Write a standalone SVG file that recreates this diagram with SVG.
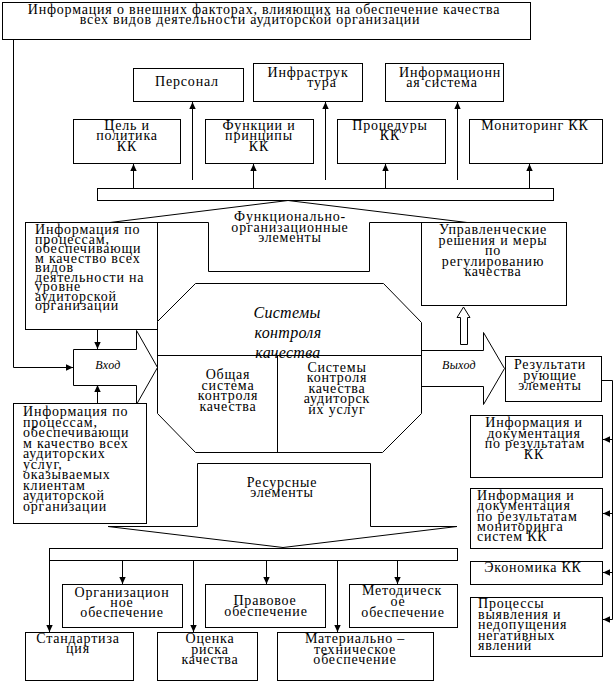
<svg xmlns="http://www.w3.org/2000/svg" width="614" height="681" viewBox="0 0 614 681">
<defs>
<style>
.box{fill:#fff;stroke:#000;stroke-width:1}
.ln{fill:none;stroke:#000;stroke-width:1}
.ar{fill:none;stroke:#000;stroke-width:1;marker-end:url(#ah)}
text{font-family:"Liberation Serif","Times New Roman",serif;font-size:14px;letter-spacing:0.8px;fill:#000}
.c{text-anchor:middle}
.it{font-style:italic;letter-spacing:0.3px}
.big{font-size:16px}
.sm{font-size:12px}
</style>
<marker id="ah" markerWidth="8" markerHeight="8" refX="7" refY="4" orient="auto" markerUnits="userSpaceOnUse"><path d="M0,0.8 L7,4 L0,7.2 z" fill="#000"/></marker>
</defs>
<rect width="614" height="681" fill="#fff"/>

<g id="functional-shape">
<polygon class="box" points="110,222.5 288,200.5 467,222.5 369.5,222.5 369.5,271.5 208.5,271.5 208.5,222.5"/>
<text class="c" x="290" y="221">Функционально-</text>
<text class="c" x="290" y="231.5">организационные</text>
<text class="c" x="290" y="242">элементы</text>
</g>

<g id="resource-shape">
<polygon class="box" points="197.5,463.5 370.5,463.5 370.5,526.5 457,526.5 283,547.5 108,526.5 197.5,526.5"/>
<text class="c" x="282" y="487">Ресурсные</text>
<text class="c" x="282" y="497">элементы</text>
</g>

<g id="connectors">
<polyline class="ar" points="13.5,39.5 13.5,367.5 73,367.5"/>
<line class="ar" x1="133.5" y1="188" x2="133.5" y2="164"/>
<line class="ar" x1="253.5" y1="188" x2="253.5" y2="164"/>
<line class="ar" x1="385.5" y1="188" x2="385.5" y2="164"/>
<line class="ar" x1="529.5" y1="188" x2="529.5" y2="164"/>
<line class="ar" x1="192.5" y1="180" x2="192.5" y2="102"/>
<line class="ar" x1="325.5" y1="180" x2="325.5" y2="102"/>
<line class="ar" x1="457.5" y1="180" x2="457.5" y2="102"/>
<line class="ar" x1="97.5" y1="329.5" x2="97.5" y2="349"/>
<line class="ar" x1="97.5" y1="403.5" x2="97.5" y2="385"/>
<polyline class="ln" points="602,380.5 612.5,380.5 612.5,619.5"/>
<line class="ar" x1="612.5" y1="439.5" x2="603" y2="439.5"/>
<line class="ar" x1="612.5" y1="513.5" x2="603" y2="513.5"/>
<line class="ar" x1="612.5" y1="572.5" x2="603" y2="572.5"/>
<line class="ar" x1="612.5" y1="619.5" x2="603" y2="619.5"/>
<line class="ar" x1="49.5" y1="560.5" x2="49.5" y2="632"/>
<line class="ar" x1="122.5" y1="560.5" x2="122.5" y2="584"/>
<line class="ar" x1="193.5" y1="560.5" x2="193.5" y2="632"/>
<line class="ar" x1="266.5" y1="560.5" x2="266.5" y2="584"/>
<line class="ar" x1="337.5" y1="560.5" x2="337.5" y2="632"/>
<line class="ar" x1="397.5" y1="560.5" x2="397.5" y2="584"/>
<polygon class="box" points="460.5,344.5 460.5,317.5 457,317.5 463.5,307 470,317.5 467.5,317.5 467.5,344.5"/>
</g>

<g id="external-info">
<rect class="box" x="2.5" y="2.5" width="528" height="37"/>
<text class="c" x="264" y="14">Информация о внешних факторах, влияющих на обеспечение качества</text>
<text class="c" x="250" y="24">всех видов деятельности аудиторской организации</text>
</g>

<g id="personnel"><rect class="box" x="133.5" y="68.5" width="110" height="33"/><text class="c" x="187" y="86">Персонал</text></g>
<g id="infrastructure"><rect class="box" x="253.5" y="63.5" width="109" height="38"/><text class="c" x="308" y="77">Инфраструк</text><text class="c" x="322" y="86.5">тура</text></g>
<g id="info-system"><rect class="box" x="385.5" y="63.5" width="118" height="38"/><text class="c" x="450" y="77">Информационн</text><text class="c" x="442" y="86.5">ая система</text></g>

<g id="goal"><rect class="box" x="73.5" y="119.5" width="107" height="44"/><text class="c" x="127" y="129.5">Цель и</text><text class="c" x="127" y="140">политика</text><text class="c" x="127" y="150.5">КК</text></g>
<g id="functions"><rect class="box" x="205.5" y="119.5" width="108" height="44"/><text class="c" x="259" y="129.5">Функции и</text><text class="c" x="259" y="140">принципы</text><text class="c" x="259" y="150.5">КК</text></g>
<g id="procedures"><rect class="box" x="337.5" y="119.5" width="108" height="44"/><text class="c" x="390" y="129.5">Процедуры</text><text class="c" x="390" y="140">КК</text></g>
<g id="monitoring"><rect class="box" x="469.5" y="119.5" width="133" height="44"/><text class="c" x="535" y="129.5">Мониторинг КК</text></g>

<g id="top-bar"><rect class="box" x="97.5" y="188.5" width="456" height="12"/></g>

<g id="info-processes-org">
<rect class="box" x="25.5" y="222.5" width="132" height="107"/>
<text x="35" y="234">Информация по</text>
<text x="35" y="243.5">процессам,</text>
<text x="35" y="253">обеспечивающи</text>
<text x="35" y="262.5">м качество всех</text>
<text x="35" y="272">видов</text>
<text x="35" y="281.5">деятельности на</text>
<text x="35" y="291">уровне</text>
<text x="35" y="300.5">аудиторской</text>
<text x="35" y="310">организации</text>
</g>

<g id="management">
<rect class="box" x="421.5" y="222.5" width="145" height="83"/>
<text class="c" x="493" y="234">Управленческие</text>
<text class="c" x="493" y="244.5">решения и меры</text>
<text class="c" x="493" y="255">по</text>
<text class="c" x="493" y="265.5">регулированию</text>
<text class="c" x="493" y="276">качества</text>
</g>

<g id="input">
<polygon class="box" points="73.5,349.5 136.5,349.5 136.5,330.5 157.5,367.5 136.5,404.5 136.5,385.5 73.5,385.5"/>
<text class="it sm c" x="108" y="369">Вход</text>
</g>

<g id="output">
<polygon class="box" points="421.5,350.5 483.5,350.5 483.5,332.5 504.5,368.5 483.5,404.5 483.5,386.5 421.5,386.5"/>
<text class="it sm c" x="459" y="369">Выход</text>
</g>

<g id="qc-systems">
<polygon class="box" points="195.5,283.5 383.5,283.5 421.5,322.5 421.5,413.5 382.5,452.5 195.5,452.5 157.5,413.5 157.5,321.5"/>
<text class="it big c" x="287" y="318">Системы</text>
<text class="it big c" x="288" y="338">контроля</text>
<text class="it big c" x="288" y="358">качества</text>
<line class="ln" x1="157.5" y1="355.5" x2="421.5" y2="355.5"/>
<line class="ln" x1="277.5" y1="355.5" x2="277.5" y2="452.5"/>
<text class="c" x="228" y="379">Общая</text>
<text class="c" x="228" y="389.5">система</text>
<text class="c" x="228" y="400">контроля</text>
<text class="c" x="228" y="410.5">качества</text>
<text class="c" x="337" y="371.5">Системы</text>
<text class="c" x="337" y="382">контроля</text>
<text class="c" x="337" y="392.5">качества</text>
<text class="c" x="337" y="403">аудиторск</text>
<text class="c" x="337" y="413.5">их услуг</text>
</g>

<g id="info-processes-services">
<rect class="box" x="13.5" y="403.5" width="133" height="120"/>
<text x="23" y="416">Информация по</text>
<text x="23" y="426.5">процессам,</text>
<text x="23" y="437">обеспечивающи</text>
<text x="23" y="447.5">м качество всех</text>
<text x="23" y="458">аудиторских</text>
<text x="23" y="468.5">услуг,</text>
<text x="23" y="479">оказываемых</text>
<text x="23" y="489.5">клиентам</text>
<text x="23" y="500">аудиторской</text>
<text x="23" y="510.5">организации</text>
</g>

<g id="resulting">
<rect class="box" x="505.5" y="356.5" width="96" height="45"/>
<text class="c" x="550" y="369">Результати</text>
<text class="c" x="550" y="379.5">рующие</text>
<text class="c" x="550" y="390">элементы</text>
</g>

<g id="docs-results">
<rect class="box" x="470.5" y="415.5" width="132" height="62"/>
<text class="c" x="534" y="427">Информация и</text>
<text class="c" x="534" y="437.5">документация</text>
<text class="c" x="535" y="448">по результатам</text>
<text class="c" x="534" y="458.5">КК</text>
</g>

<g id="docs-monitoring">
<rect class="box" x="470.5" y="488.5" width="132" height="60"/>
<text x="477" y="500">Информация и</text>
<text x="477" y="510.3">документация</text>
<text x="477" y="520.6">по результатам</text>
<text x="477" y="530.9">мониторинга</text>
<text x="477" y="541.2">систем КК</text>
</g>

<g id="economics">
<rect class="box" x="470.5" y="561.5" width="132" height="23"/>
<text class="c" x="533" y="572">Экономика КК</text>
</g>

<g id="negative">
<rect class="box" x="470.5" y="597.5" width="132" height="59"/>
<text x="478" y="608">Процессы</text>
<text x="478" y="618.5">выявления и</text>
<text x="478" y="629">недопущения</text>
<text x="478" y="639.5">негативных</text>
<text x="478" y="650">явлений</text>
</g>

<g id="bottom-bar"><rect class="box" x="49.5" y="548.5" width="408" height="12"/></g>

<g id="org-support"><rect class="box" x="62.5" y="584.5" width="120" height="43"/><text class="c" x="122" y="597">Организацион</text><text class="c" x="122" y="607">ное</text><text class="c" x="122" y="617">обеспечение</text></g>
<g id="legal-support"><rect class="box" x="205.5" y="584.5" width="120" height="43"/><text class="c" x="265" y="605">Правовое</text><text class="c" x="266" y="615.5">обеспечение</text></g>
<g id="method-support"><rect class="box" x="349.5" y="584.5" width="108" height="43"/><text class="c" x="402" y="595">Методическ</text><text class="c" x="398" y="606">ое</text><text class="c" x="403" y="617">обеспечение</text></g>
<g id="standardization"><rect class="box" x="25.5" y="632.5" width="108" height="48"/><text class="c" x="78" y="643">Стандартиза</text><text class="c" x="78" y="652.5">ция</text></g>
<g id="risk"><rect class="box" x="157.5" y="632.5" width="100" height="48"/><text class="c" x="210" y="643">Оценка</text><text class="c" x="210" y="653.5">риска</text><text class="c" x="210" y="664">качества</text></g>
<g id="material"><rect class="box" x="277.5" y="632.5" width="156" height="48"/><text class="c" x="355" y="643">Материально –</text><text class="c" x="355" y="653.5">техническое</text><text class="c" x="355" y="664">обеспечение</text></g>
</svg>
